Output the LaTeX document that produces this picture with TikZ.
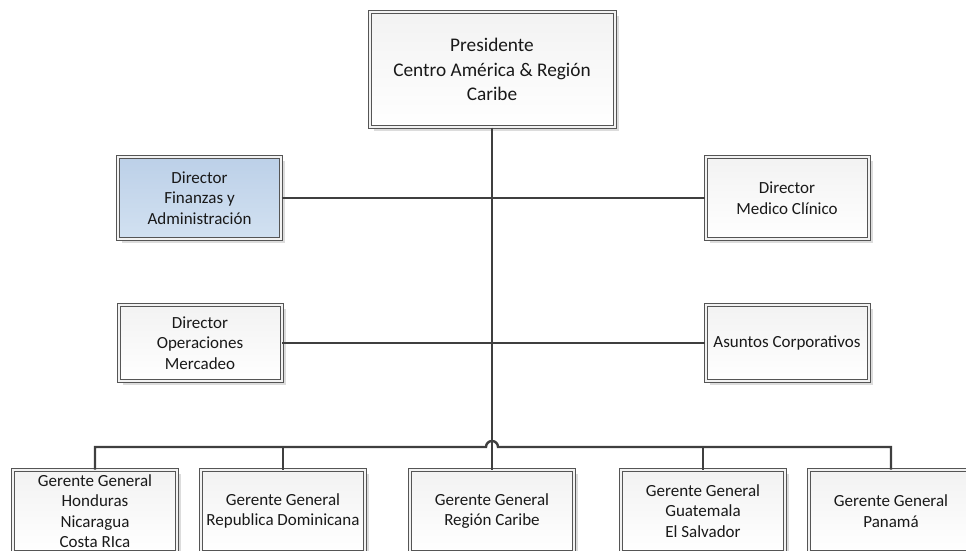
\documentclass[tikz,border=0pt]{standalone}
\usepackage{fontspec}
\setmainfont{Carlito}
\usetikzlibrary{shadows}

\definecolor{boxline}{HTML}{555555}
\definecolor{boxgap}{HTML}{F2F2F2}
\definecolor{wire}{HTML}{3F3F3F}
\definecolor{shade}{HTML}{DCDCDC}
\definecolor{bluetop}{HTML}{BCD0E8}
\definecolor{bluebot}{HTML}{D2E1F1}

\tikzset{
  orgbox/.style={
    rectangle, align=center, inner sep=2pt,
    draw=boxline, line width=1pt, double=boxgap, double distance=2pt,
    top color=black!5, bottom color=white,
    drop shadow={shadow xshift=4pt, shadow yshift=-4pt, fill=shade, opacity=1},
    font=\fontsize{17}{20.5}\selectfont, text=black!90
  },
  topbox/.style={orgbox, minimum width=245pt, minimum height=115pt,
    font=\fontsize{19.3}{24.5}\selectfont},
  sidebox/.style={orgbox, minimum width=163pt, minimum height=82pt},
  midbox/.style={orgbox, minimum width=163pt, minimum height=76pt},
  lowbox/.style={orgbox, minimum width=164pt, minimum height=82pt},
  bluebox/.style={top color=bluetop, bottom color=bluebot},
  link/.style={draw=wire, line width=2.4pt},
  spine/.style={draw=wire, line width=2.1pt}
}

\begin{document}
\begin{tikzpicture}[x=1pt, y=-1pt]
  \useasboundingbox (0,0) rectangle (966,550);

  % top of the chart
  \node[topbox] (pres) at (492,69.5) {Presidente\\Centro América \& Región\\Caribe};

  % staff directors
  \node[sidebox, bluebox] (dfa) at (199.5,198) {Director\\Finanzas y\\Administración};
  \node[sidebox] (dmc) at (787,198) {Director\\Medico Clínico};
  \node[midbox] (dop) at (200,343) {Director\\Operaciones\\Mercadeo};
  \node[midbox] (dac) at (787,343) {Asuntos Corporativos};

  % country managers
  \node[lowbox] (gg1) at (95,511) {Gerente General\\Honduras\\Nicaragua\\Costa RIca};
  \node[lowbox] (gg2) at (283,511) {Gerente General\\Republica Dominicana};
  \node[lowbox] (gg3) at (492,511) {Gerente General\\Región Caribe};
  \node[lowbox] (gg4) at (703,511) {Gerente General\\Guatemala\\El Salvador};
  \node[lowbox] (gg5) at (891,511) {Gerente General\\Panamá};

  \coordinate (bus) at (492,447);

  % connectors
  \draw[link] (dfa.east) -- (dmc.west);
  \draw[link] (dop.east) -- (dac.west);
  \draw[link] (gg1.north) |- ([xshift=-6pt]bus)
        arc[start angle=180, end angle=0, radius=6pt] -| (gg5.north);
  \draw[link] (gg2.north) -- (gg2.north |- bus);
  \draw[link] (gg4.north) -- (gg4.north |- bus);
  \draw[spine] (pres.south) -- (gg3.north);
\end{tikzpicture}
\end{document}
